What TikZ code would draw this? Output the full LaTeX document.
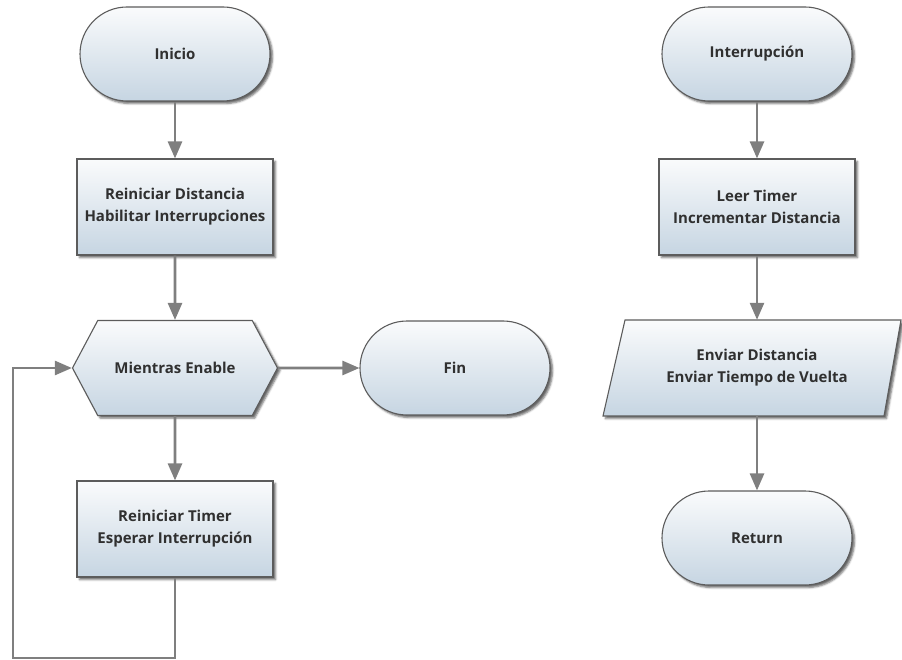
\documentclass[tikz,border=0pt]{standalone}
\usepackage{fontspec}
\setmainfont{Open Sans}
\usetikzlibrary{arrows.meta,shapes.symbols,shadows.blur}

\definecolor{edgegray}{HTML}{5C5C5C}
\definecolor{linkgray}{HTML}{7F7F7F}
\definecolor{fillhi}{HTML}{FAFBFC}
\definecolor{fillmid}{HTML}{E6ECF2}
\definecolor{filllo}{HTML}{C6D5E2}
\definecolor{inkgray}{HTML}{303030}

\tikzset{
  shaded/.style={top color=fillhi, middle color=fillmid, bottom color=filllo, draw=edgegray, line width=1.1pt,
    blur shadow={shadow xshift=2.5pt, shadow yshift=-2.5pt, shadow blur radius=2pt, shadow opacity=60}},
  label/.style={align=center, text=inkgray, font=\bfseries\fontsize{15}{22}\selectfont},
  terminal/.style={shaded, label, rectangle, rounded corners=47pt, minimum width=190pt, minimum height=94pt},
  process/.style={shaded, label, rectangle, minimum width=196pt, minimum height=96pt},
  loophead/.style={shaded, label, signal, signal to=east and west, signal pointer angle=124,
    minimum width=205pt, minimum height=95pt},
  iobox/.style={label, rectangle, minimum width=250pt, minimum height=96pt},
  flow/.style={draw=linkgray, line width=2.6pt, -{Triangle[length=17pt,width=14pt]}},
}

\begin{document}
\begin{tikzpicture}[x=1pt, y=-1pt]
  \useasboundingbox (0,0) rectangle (902,660);

  % main routine
  \node[terminal] (inicio) at (175,54) {Inicio};
  \node[process] (reset) at (175,207) {Reiniciar Distancia\\Habilitar Interrupciones};
  \node[loophead] (mientras) at (175,368) {Mientras Enable};
  \node[terminal] (fin) at (455,368) {Fin};
  \node[process] (espera) at (175,529) {Reiniciar Timer\\Esperar Interrupción};
  \coordinate (retorno) at (13,658);

  % interrupt routine
  \node[terminal] (irq) at (757,54) {Interrupción};
  \node[process] (leer) at (757,207) {Leer Timer\\Incrementar Distancia};
  \path[shaded] (625,320) -- (901,320) -- (884,416) -- (603,416) -- cycle;
  \node[iobox] (enviar) at (757,368) {Enviar Distancia\\Enviar Tiempo de Vuelta};
  \node[terminal] (ret) at (757,538) {Return};

  % connectors
  \draw[flow] (inicio) -- (reset);
  \draw[flow] (reset) -- (mientras);
  \draw[flow] (mientras) -- (fin);
  \draw[flow] (mientras) -- (espera);
  \draw[flow] (espera.south) |- (retorno) |- (mientras.west);

  \draw[flow] (irq) -- (leer);
  \draw[flow] (leer) -- (enviar);
  \draw[flow] (enviar) -- (ret);
\end{tikzpicture}
\end{document}
